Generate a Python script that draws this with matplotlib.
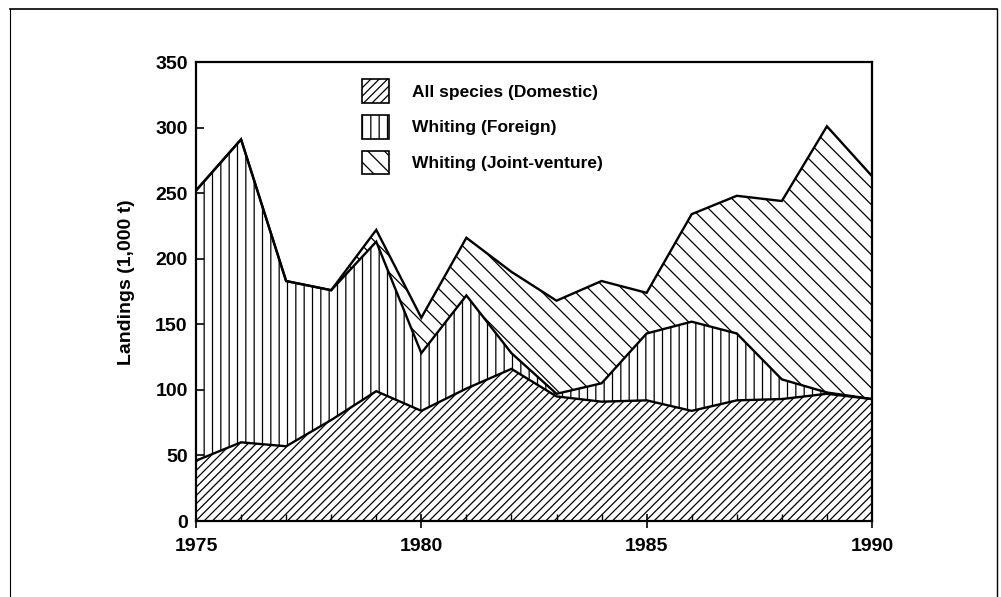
import matplotlib
matplotlib.use("Agg")
import matplotlib.pyplot as plt
from matplotlib.patches import Patch
from matplotlib.lines import Line2D
import numpy as np

years = [1975, 1976, 1977, 1978, 1979, 1980, 1981, 1982, 1983, 1984, 1985, 1986, 1987, 1988, 1989, 1990]
domestic = [46, 60, 57, 77, 99, 84, 101, 116, 95, 91, 92, 84, 92, 93, 97, 93]
foreign = [206, 231, 126, 99, 114, 44, 71, 12, 2, 14, 51, 68, 51, 15, 1, 0]
joint_venture = [0, 0, 0, 0, 9, 27, 44, 62, 71, 78, 31, 82, 105, 136, 203, 170]

labels = ["All species (Domestic)", "Whiting (Foreign)", "Whiting (Joint-venture)"]
hatches = ["////", "||", "\\\\"]
yticks = [0, 50, 100, 150, 200, 250, 300, 350]
xticks = [1975, 1980, 1985, 1990]

plt.rcParams["font.family"] = ["Liberation Sans", "DejaVu Sans"]
plt.rcParams["hatch.linewidth"] = 0.9

fig = plt.figure(figsize=(10.01, 5.97), dpi=100)
ax = fig.add_axes([0.1958, 0.1273, 0.6753, 0.7688])

x = np.array(years, dtype=float)
d = np.array(domestic, dtype=float)
f = np.array(foreign, dtype=float)
j = np.array(joint_venture, dtype=float)
layers = [(np.zeros_like(d), d), (d, d + f), (d + f, d + f + j)]
for (lo, hi), h in zip(layers, hatches):
    ax.fill_between(x, lo, hi, facecolor="white", edgecolor="black", hatch=h, linewidth=0)
    ax.plot(x, hi, color="black", linewidth=1.7, solid_joinstyle="miter")

ax.set_xlim(1975, 1990)
ax.set_ylim(0, 350)
ax.set_yticks(yticks)
ax.set_xticks(xticks)
ax.set_xticks(years, minor=True)
ax.tick_params(axis="y", direction="in", length=6, width=1.2, pad=6, labelsize=14)
ax.tick_params(axis="x", which="major", direction="inout", length=10, width=1.2, pad=7, labelsize=14)
ax.tick_params(axis="x", which="minor", direction="in", length=5, width=1.0)
for lab in ax.get_xticklabels() + ax.get_yticklabels():
    lab.set_fontweight("bold")
for s in ax.spines.values():
    s.set_linewidth(1.6)
ax.set_ylabel("Landings (1,000 t)", fontsize=14, fontweight="bold")
ax.yaxis.set_label_coords(-0.09, 0.52)

handles = [Patch(facecolor="white", edgecolor="black", hatch=h, linewidth=1.2) for h in hatches]
leg = ax.legend(handles, labels, loc="upper left", bbox_to_anchor=(0.223, 0.996),
                frameon=False, handlelength=1.55, handleheight=1.7, handletextpad=1.33,
                labelspacing=0.7, prop={"family": "Liberation Sans", "weight": "bold", "size": 12.5})

# figure frame lines
fig.add_artist(Line2D([0.010, 0.996], [0.985, 0.985], transform=fig.transFigure, color="black", linewidth=1.2))
fig.add_artist(Line2D([0.010, 0.010], [0.0, 0.985], transform=fig.transFigure, color="black", linewidth=0.8))
fig.add_artist(Line2D([0.996, 0.996], [0.0, 0.985], transform=fig.transFigure, color="black", linewidth=1.0))

fig.savefig("out.png", dpi=100)
